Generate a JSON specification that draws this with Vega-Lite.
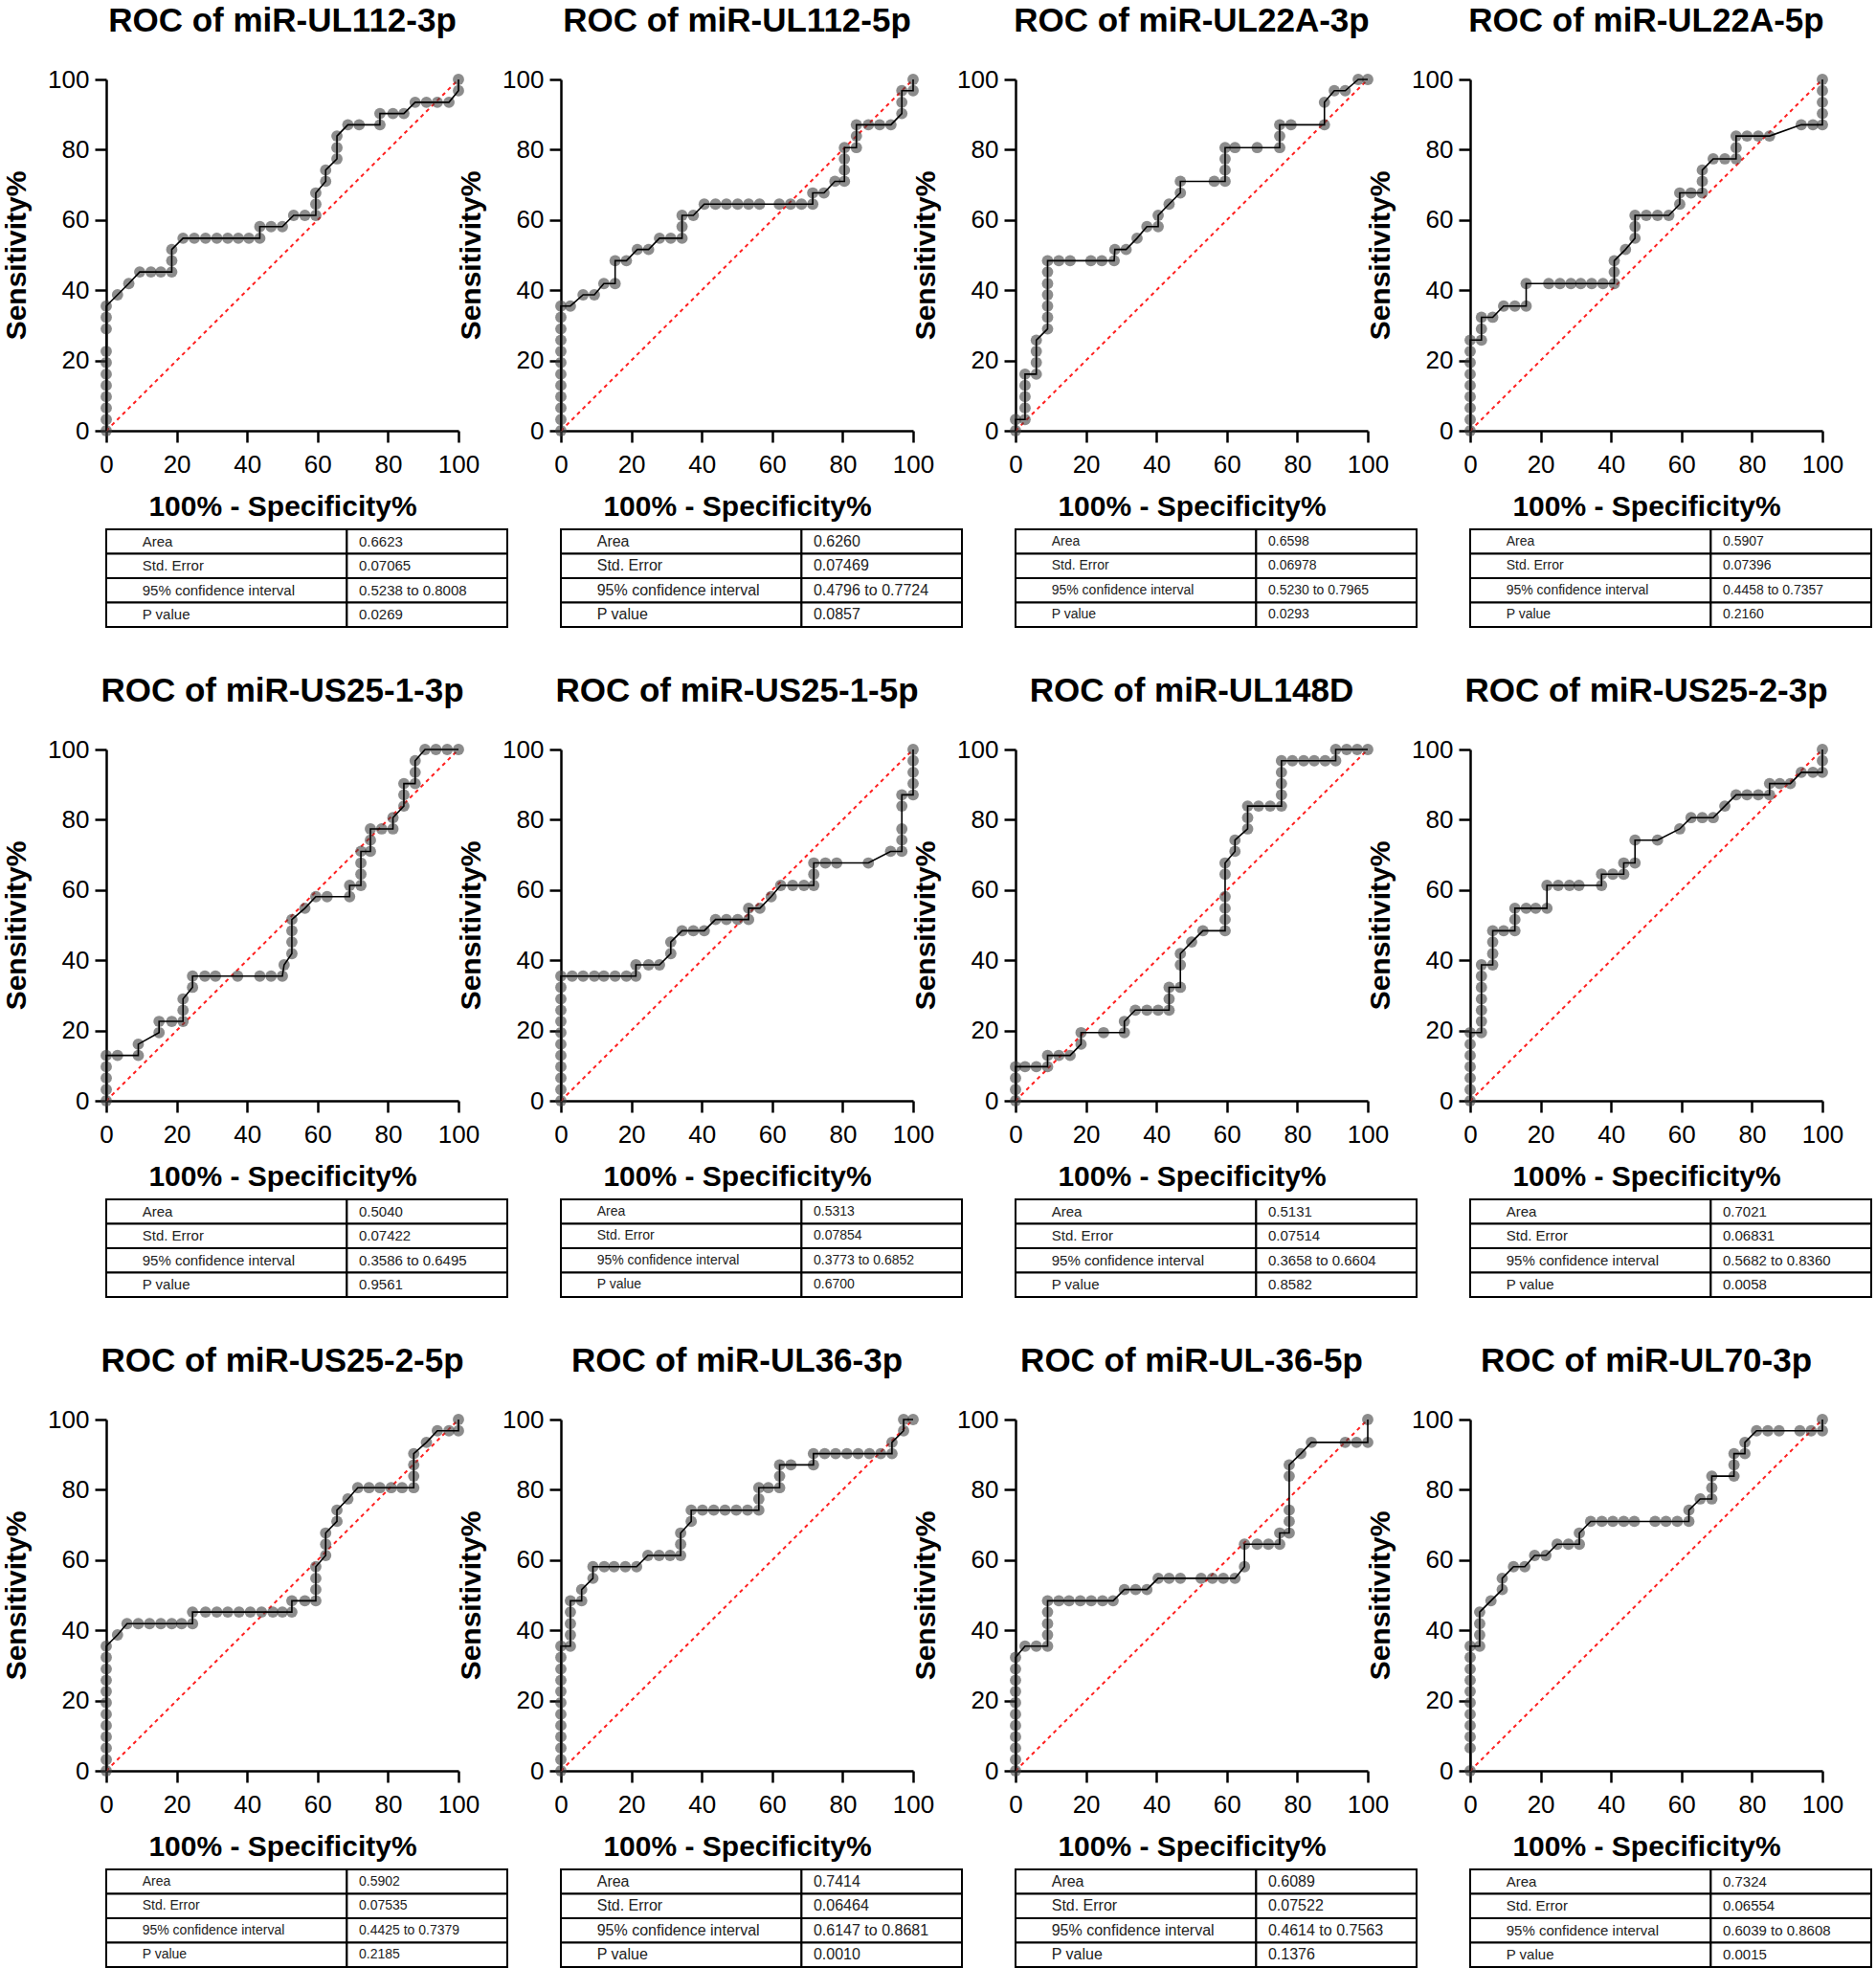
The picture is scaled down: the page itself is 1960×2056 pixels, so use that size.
{
"$schema":"https://vega.github.io/schema/vega-lite/v6.json",
"padding":{"left":2,"top":5,"right":0,"bottom":0},
"background":"white",
"config":{
 "view":{"stroke":null},
 "font":"Liberation Sans",
 "title":{"fontSize":35,"fontWeight":"bold","font":"Liberation Sans","color":"black","frame":"group","anchor":"middle","offset":30},
 "axis":{"grid":false,"domainColor":"black","domainWidth":2.5,"tickColor":"black","tickWidth":2.5,"tickSize":12,"labelFontSize":26,"labelColor":"black","labelPadding":6,"labelFont":"Liberation Sans","titleFont":"Liberation Sans","titleFontSize":30,"titleFontWeight":"bold","titleColor":"black","labelFlush":false,"labelOverlap":false,"labelBound":false},
 "axisX":{"titlePadding":16,"labelPadding":10},
 "axisY":{"titlePadding":17},
 "point":{"filled":true,"size":140,"color":"#404040","opacity":0.6},
 "line":{"color":"black","strokeWidth":1.6},
 "rule":{"color":"#ff2020","strokeDash":[4,4],"strokeWidth":2},
 "rect":{"fill":"white","stroke":"black","strokeWidth":2},
 "text":{"align":"left","color":"#222"}
},
"datasets":{
"stats":[
{"p":1,"stat":"Area","value":"0.6623"},{"p":1,"stat":"Std. Error","value":"0.07065"},{"p":1,"stat":"95% confidence interval","value":"0.5238 to 0.8008"},{"p":1,"stat":"P value","value":"0.0269"},
{"p":2,"stat":"Area","value":"0.6260"},{"p":2,"stat":"Std. Error","value":"0.07469"},{"p":2,"stat":"95% confidence interval","value":"0.4796 to 0.7724"},{"p":2,"stat":"P value","value":"0.0857"},
{"p":3,"stat":"Area","value":"0.6598"},{"p":3,"stat":"Std. Error","value":"0.06978"},{"p":3,"stat":"95% confidence interval","value":"0.5230 to 0.7965"},{"p":3,"stat":"P value","value":"0.0293"},
{"p":4,"stat":"Area","value":"0.5907"},{"p":4,"stat":"Std. Error","value":"0.07396"},{"p":4,"stat":"95% confidence interval","value":"0.4458 to 0.7357"},{"p":4,"stat":"P value","value":"0.2160"},
{"p":5,"stat":"Area","value":"0.5040"},{"p":5,"stat":"Std. Error","value":"0.07422"},{"p":5,"stat":"95% confidence interval","value":"0.3586 to 0.6495"},{"p":5,"stat":"P value","value":"0.9561"},
{"p":6,"stat":"Area","value":"0.5313"},{"p":6,"stat":"Std. Error","value":"0.07854"},{"p":6,"stat":"95% confidence interval","value":"0.3773 to 0.6852"},{"p":6,"stat":"P value","value":"0.6700"},
{"p":7,"stat":"Area","value":"0.5131"},{"p":7,"stat":"Std. Error","value":"0.07514"},{"p":7,"stat":"95% confidence interval","value":"0.3658 to 0.6604"},{"p":7,"stat":"P value","value":"0.8582"},
{"p":8,"stat":"Area","value":"0.7021"},{"p":8,"stat":"Std. Error","value":"0.06831"},{"p":8,"stat":"95% confidence interval","value":"0.5682 to 0.8360"},{"p":8,"stat":"P value","value":"0.0058"},
{"p":9,"stat":"Area","value":"0.5902"},{"p":9,"stat":"Std. Error","value":"0.07535"},{"p":9,"stat":"95% confidence interval","value":"0.4425 to 0.7379"},{"p":9,"stat":"P value","value":"0.2185"},
{"p":10,"stat":"Area","value":"0.7414"},{"p":10,"stat":"Std. Error","value":"0.06464"},{"p":10,"stat":"95% confidence interval","value":"0.6147 to 0.8681"},{"p":10,"stat":"P value","value":"0.0010"},
{"p":11,"stat":"Area","value":"0.6089"},{"p":11,"stat":"Std. Error","value":"0.07522"},{"p":11,"stat":"95% confidence interval","value":"0.4614 to 0.7563"},{"p":11,"stat":"P value","value":"0.1376"},
{"p":12,"stat":"Area","value":"0.7324"},{"p":12,"stat":"Std. Error","value":"0.06554"},{"p":12,"stat":"95% confidence interval","value":"0.6039 to 0.8608"},{"p":12,"stat":"P value","value":"0.0015"}
],
"roc":[
{"p":1,"fpr":0,"sens":0},{"p":1,"fpr":0,"sens":3.2},{"p":1,"fpr":0,"sens":6.5},{"p":1,"fpr":0,"sens":9.7},{"p":1,"fpr":0,"sens":12.9},{"p":1,"fpr":0,"sens":16.1},{"p":1,"fpr":0,"sens":19.4},{"p":1,"fpr":0,"sens":22.6},{"p":1,"fpr":0,"sens":29},{"p":1,"fpr":0,"sens":32.3},{"p":1,"fpr":0,"sens":35.5},{"p":1,"fpr":3.2,"sens":38.7},{"p":1,"fpr":6.4,"sens":41.9},{"p":1,"fpr":9.5,"sens":45.2},{"p":1,"fpr":12.7,"sens":45.2},{"p":1,"fpr":15.5,"sens":45.2},{"p":1,"fpr":18.6,"sens":45.2},{"p":1,"fpr":18.6,"sens":48.4},{"p":1,"fpr":18.6,"sens":51.6},{"p":1,"fpr":21.8,"sens":54.8},{"p":1,"fpr":25,"sens":54.8},{"p":1,"fpr":28.2,"sens":54.8},{"p":1,"fpr":31.4,"sens":54.8},{"p":1,"fpr":34.5,"sens":54.8},{"p":1,"fpr":37.5,"sens":54.8},{"p":1,"fpr":40.5,"sens":54.8},{"p":1,"fpr":43.6,"sens":54.8},{"p":1,"fpr":43.6,"sens":58.1},{"p":1,"fpr":46.8,"sens":58.1},{"p":1,"fpr":50,"sens":58.1},{"p":1,"fpr":53.2,"sens":61.3},{"p":1,"fpr":56.4,"sens":61.3},{"p":1,"fpr":59.5,"sens":61.3},{"p":1,"fpr":59.5,"sens":64.5},{"p":1,"fpr":59.5,"sens":67.7},{"p":1,"fpr":62.3,"sens":71},{"p":1,"fpr":62.3,"sens":74.2},{"p":1,"fpr":65.5,"sens":77.4},{"p":1,"fpr":65.5,"sens":80.6},{"p":1,"fpr":65.5,"sens":83.9},{"p":1,"fpr":68.6,"sens":87.1},{"p":1,"fpr":71.8,"sens":87.1},{"p":1,"fpr":77.7,"sens":87.1},{"p":1,"fpr":77.7,"sens":90.3},{"p":1,"fpr":81.4,"sens":90.3},{"p":1,"fpr":84.5,"sens":90.3},{"p":1,"fpr":87.7,"sens":93.5},{"p":1,"fpr":90.9,"sens":93.5},{"p":1,"fpr":94,"sens":93.5},{"p":1,"fpr":97.3,"sens":93.5},{"p":1,"fpr":100,"sens":96.8},{"p":1,"fpr":100,"sens":100},
{"p":2,"fpr":0,"sens":0},{"p":2,"fpr":0,"sens":3.2},{"p":2,"fpr":0,"sens":6.5},{"p":2,"fpr":0,"sens":9.7},{"p":2,"fpr":0,"sens":12.9},{"p":2,"fpr":0,"sens":16.1},{"p":2,"fpr":0,"sens":19.4},{"p":2,"fpr":0,"sens":22.6},{"p":2,"fpr":0,"sens":25.8},{"p":2,"fpr":0,"sens":29},{"p":2,"fpr":0,"sens":32.3},{"p":2,"fpr":0,"sens":35.5},{"p":2,"fpr":2.7,"sens":35.5},{"p":2,"fpr":6.3,"sens":38.7},{"p":2,"fpr":9.5,"sens":38.7},{"p":2,"fpr":12.2,"sens":41.9},{"p":2,"fpr":15.4,"sens":41.9},{"p":2,"fpr":15.4,"sens":48.4},{"p":2,"fpr":18.6,"sens":48.4},{"p":2,"fpr":21.7,"sens":51.6},{"p":2,"fpr":24.9,"sens":51.6},{"p":2,"fpr":28,"sens":54.8},{"p":2,"fpr":31.2,"sens":54.8},{"p":2,"fpr":34.4,"sens":54.8},{"p":2,"fpr":34.4,"sens":58.1},{"p":2,"fpr":34.4,"sens":61.3},{"p":2,"fpr":37.6,"sens":61.3},{"p":2,"fpr":40.7,"sens":64.5},{"p":2,"fpr":43.9,"sens":64.5},{"p":2,"fpr":47,"sens":64.5},{"p":2,"fpr":50.2,"sens":64.5},{"p":2,"fpr":53.3,"sens":64.5},{"p":2,"fpr":56.4,"sens":64.5},{"p":2,"fpr":62,"sens":64.5},{"p":2,"fpr":65.2,"sens":64.5},{"p":2,"fpr":68.3,"sens":64.5},{"p":2,"fpr":71.5,"sens":64.5},{"p":2,"fpr":71.5,"sens":67.7},{"p":2,"fpr":74.7,"sens":67.7},{"p":2,"fpr":77.8,"sens":71},{"p":2,"fpr":80.5,"sens":71},{"p":2,"fpr":80.5,"sens":74.2},{"p":2,"fpr":80.5,"sens":77.4},{"p":2,"fpr":80.5,"sens":80.6},{"p":2,"fpr":83.9,"sens":80.6},{"p":2,"fpr":83.9,"sens":83.9},{"p":2,"fpr":83.9,"sens":87.1},{"p":2,"fpr":87.3,"sens":87.1},{"p":2,"fpr":90.5,"sens":87.1},{"p":2,"fpr":93.7,"sens":87.1},{"p":2,"fpr":96.8,"sens":90.3},{"p":2,"fpr":96.8,"sens":93.5},{"p":2,"fpr":96.8,"sens":96.8},{"p":2,"fpr":100,"sens":96.8},{"p":2,"fpr":100,"sens":100},
{"p":3,"fpr":0,"sens":0},{"p":3,"fpr":0,"sens":3.2},{"p":3,"fpr":2.7,"sens":3.2},{"p":3,"fpr":2.7,"sens":6.5},{"p":3,"fpr":2.7,"sens":9.7},{"p":3,"fpr":2.7,"sens":12.9},{"p":3,"fpr":2.7,"sens":16.1},{"p":3,"fpr":5.9,"sens":16.1},{"p":3,"fpr":5.9,"sens":19.4},{"p":3,"fpr":5.9,"sens":22.6},{"p":3,"fpr":5.9,"sens":25.8},{"p":3,"fpr":9.1,"sens":29},{"p":3,"fpr":9.1,"sens":32.3},{"p":3,"fpr":9.1,"sens":35.5},{"p":3,"fpr":9.1,"sens":38.7},{"p":3,"fpr":9.1,"sens":41.9},{"p":3,"fpr":9.1,"sens":45.2},{"p":3,"fpr":9.1,"sens":48.4},{"p":3,"fpr":12.3,"sens":48.4},{"p":3,"fpr":15.5,"sens":48.4},{"p":3,"fpr":21.4,"sens":48.4},{"p":3,"fpr":24.5,"sens":48.4},{"p":3,"fpr":28,"sens":48.4},{"p":3,"fpr":28.2,"sens":51.6},{"p":3,"fpr":31.4,"sens":51.6},{"p":3,"fpr":34.5,"sens":54.8},{"p":3,"fpr":37.3,"sens":58.1},{"p":3,"fpr":40.5,"sens":58.1},{"p":3,"fpr":40.5,"sens":61.3},{"p":3,"fpr":43.6,"sens":64.5},{"p":3,"fpr":46.8,"sens":67.7},{"p":3,"fpr":46.8,"sens":71},{"p":3,"fpr":56.4,"sens":71},{"p":3,"fpr":59.5,"sens":71},{"p":3,"fpr":59.5,"sens":74.2},{"p":3,"fpr":59.5,"sens":77.4},{"p":3,"fpr":59.5,"sens":80.6},{"p":3,"fpr":62.3,"sens":80.6},{"p":3,"fpr":68.6,"sens":80.6},{"p":3,"fpr":75,"sens":80.6},{"p":3,"fpr":75,"sens":83.9},{"p":3,"fpr":75,"sens":87.1},{"p":3,"fpr":78.2,"sens":87.1},{"p":3,"fpr":87.7,"sens":87.1},{"p":3,"fpr":87.7,"sens":93.5},{"p":3,"fpr":90.5,"sens":96.8},{"p":3,"fpr":93.6,"sens":96.8},{"p":3,"fpr":97.3,"sens":100},{"p":3,"fpr":100,"sens":100},
{"p":4,"fpr":0,"sens":0},{"p":4,"fpr":0,"sens":3.2},{"p":4,"fpr":0,"sens":6.5},{"p":4,"fpr":0,"sens":9.7},{"p":4,"fpr":0,"sens":12.9},{"p":4,"fpr":0,"sens":16.1},{"p":4,"fpr":0,"sens":19.4},{"p":4,"fpr":0,"sens":22.6},{"p":4,"fpr":0,"sens":25.8},{"p":4,"fpr":3.2,"sens":25.8},{"p":4,"fpr":3.2,"sens":29},{"p":4,"fpr":3.2,"sens":32.3},{"p":4,"fpr":6.4,"sens":32.3},{"p":4,"fpr":9.5,"sens":35.5},{"p":4,"fpr":12.7,"sens":35.5},{"p":4,"fpr":15.9,"sens":35.5},{"p":4,"fpr":15.9,"sens":41.9},{"p":4,"fpr":22.3,"sens":41.9},{"p":4,"fpr":25.5,"sens":41.9},{"p":4,"fpr":28.6,"sens":41.9},{"p":4,"fpr":31.4,"sens":41.9},{"p":4,"fpr":34.5,"sens":41.9},{"p":4,"fpr":37.7,"sens":41.9},{"p":4,"fpr":40.9,"sens":41.9},{"p":4,"fpr":40.9,"sens":45.2},{"p":4,"fpr":40.9,"sens":48.4},{"p":4,"fpr":44.1,"sens":51.6},{"p":4,"fpr":46.8,"sens":54.8},{"p":4,"fpr":46.8,"sens":58.1},{"p":4,"fpr":46.8,"sens":61.3},{"p":4,"fpr":50,"sens":61.3},{"p":4,"fpr":53.2,"sens":61.3},{"p":4,"fpr":56.4,"sens":61.3},{"p":4,"fpr":59.5,"sens":64.5},{"p":4,"fpr":59.5,"sens":67.7},{"p":4,"fpr":62.7,"sens":67.7},{"p":4,"fpr":65.9,"sens":67.7},{"p":4,"fpr":65.9,"sens":71},{"p":4,"fpr":65.9,"sens":74.2},{"p":4,"fpr":69,"sens":77.4},{"p":4,"fpr":72.3,"sens":77.4},{"p":4,"fpr":75.5,"sens":77.4},{"p":4,"fpr":75.5,"sens":80.6},{"p":4,"fpr":75.5,"sens":83.9},{"p":4,"fpr":78.6,"sens":83.9},{"p":4,"fpr":81.8,"sens":83.9},{"p":4,"fpr":85,"sens":83.9},{"p":4,"fpr":94,"sens":87.1},{"p":4,"fpr":97.3,"sens":87.1},{"p":4,"fpr":100,"sens":87.1},{"p":4,"fpr":100,"sens":90.3},{"p":4,"fpr":100,"sens":93.5},{"p":4,"fpr":100,"sens":96.8},{"p":4,"fpr":100,"sens":100},
{"p":5,"fpr":0,"sens":0},{"p":5,"fpr":0,"sens":3.2},{"p":5,"fpr":0,"sens":6.5},{"p":5,"fpr":0,"sens":9.7},{"p":5,"fpr":0,"sens":12.9},{"p":5,"fpr":3.2,"sens":12.9},{"p":5,"fpr":9.1,"sens":12.9},{"p":5,"fpr":9.1,"sens":16.1},{"p":5,"fpr":15,"sens":19.4},{"p":5,"fpr":15,"sens":22.6},{"p":5,"fpr":18.6,"sens":22.6},{"p":5,"fpr":21.8,"sens":22.6},{"p":5,"fpr":21.8,"sens":25.8},{"p":5,"fpr":21.8,"sens":29},{"p":5,"fpr":24.5,"sens":32.3},{"p":5,"fpr":24.5,"sens":35.5},{"p":5,"fpr":28,"sens":35.5},{"p":5,"fpr":31,"sens":35.5},{"p":5,"fpr":37.3,"sens":35.5},{"p":5,"fpr":43.6,"sens":35.5},{"p":5,"fpr":46.8,"sens":35.5},{"p":5,"fpr":50,"sens":35.5},{"p":5,"fpr":50.5,"sens":38.7},{"p":5,"fpr":52.7,"sens":41.9},{"p":5,"fpr":52.7,"sens":45.2},{"p":5,"fpr":52.7,"sens":48.4},{"p":5,"fpr":52.7,"sens":51.6},{"p":5,"fpr":56.4,"sens":54.8},{"p":5,"fpr":59.5,"sens":58.1},{"p":5,"fpr":62.7,"sens":58.1},{"p":5,"fpr":69.1,"sens":58.1},{"p":5,"fpr":69.1,"sens":61.3},{"p":5,"fpr":72.3,"sens":61.3},{"p":5,"fpr":72.3,"sens":64.5},{"p":5,"fpr":72.3,"sens":67.7},{"p":5,"fpr":72.3,"sens":71},{"p":5,"fpr":75,"sens":71},{"p":5,"fpr":75,"sens":74.2},{"p":5,"fpr":75,"sens":77.4},{"p":5,"fpr":78.2,"sens":77.4},{"p":5,"fpr":81.4,"sens":77.4},{"p":5,"fpr":81.4,"sens":80.6},{"p":5,"fpr":84.5,"sens":83.9},{"p":5,"fpr":84.5,"sens":87.1},{"p":5,"fpr":84.5,"sens":90.3},{"p":5,"fpr":87.7,"sens":90.3},{"p":5,"fpr":87.7,"sens":93.5},{"p":5,"fpr":87.7,"sens":96.8},{"p":5,"fpr":90.5,"sens":100},{"p":5,"fpr":93.6,"sens":100},{"p":5,"fpr":96.8,"sens":100},{"p":5,"fpr":100,"sens":100},
{"p":6,"fpr":0,"sens":0},{"p":6,"fpr":0,"sens":3.2},{"p":6,"fpr":0,"sens":6.5},{"p":6,"fpr":0,"sens":9.7},{"p":6,"fpr":0,"sens":12.9},{"p":6,"fpr":0,"sens":16.1},{"p":6,"fpr":0,"sens":19.4},{"p":6,"fpr":0,"sens":22.6},{"p":6,"fpr":0,"sens":25.8},{"p":6,"fpr":0,"sens":29},{"p":6,"fpr":0,"sens":32.3},{"p":6,"fpr":0,"sens":35.5},{"p":6,"fpr":3.2,"sens":35.5},{"p":6,"fpr":6.3,"sens":35.5},{"p":6,"fpr":9.5,"sens":35.5},{"p":6,"fpr":12.2,"sens":35.5},{"p":6,"fpr":15.4,"sens":35.5},{"p":6,"fpr":18.6,"sens":35.5},{"p":6,"fpr":21.3,"sens":35.5},{"p":6,"fpr":21.3,"sens":38.7},{"p":6,"fpr":24.9,"sens":38.7},{"p":6,"fpr":28,"sens":38.7},{"p":6,"fpr":31.2,"sens":41.9},{"p":6,"fpr":31.2,"sens":45.2},{"p":6,"fpr":34.4,"sens":48.4},{"p":6,"fpr":37.6,"sens":48.4},{"p":6,"fpr":40.7,"sens":48.4},{"p":6,"fpr":43.9,"sens":51.6},{"p":6,"fpr":47,"sens":51.6},{"p":6,"fpr":50.2,"sens":51.6},{"p":6,"fpr":53.3,"sens":51.6},{"p":6,"fpr":53.3,"sens":54.8},{"p":6,"fpr":56.5,"sens":54.8},{"p":6,"fpr":59.7,"sens":58.1},{"p":6,"fpr":62.4,"sens":61.3},{"p":6,"fpr":65.8,"sens":61.3},{"p":6,"fpr":69,"sens":61.3},{"p":6,"fpr":71.8,"sens":61.3},{"p":6,"fpr":71.8,"sens":64.5},{"p":6,"fpr":71.8,"sens":67.7},{"p":6,"fpr":75.1,"sens":67.7},{"p":6,"fpr":78.3,"sens":67.7},{"p":6,"fpr":87.3,"sens":67.7},{"p":6,"fpr":93.6,"sens":71},{"p":6,"fpr":96.8,"sens":71},{"p":6,"fpr":96.8,"sens":74.2},{"p":6,"fpr":96.8,"sens":77.4},{"p":6,"fpr":96.8,"sens":83.9},{"p":6,"fpr":96.8,"sens":87.1},{"p":6,"fpr":100,"sens":87.1},{"p":6,"fpr":100,"sens":90.3},{"p":6,"fpr":100,"sens":93.5},{"p":6,"fpr":100,"sens":96.8},{"p":6,"fpr":100,"sens":100},
{"p":7,"fpr":0,"sens":0},{"p":7,"fpr":0,"sens":3.2},{"p":7,"fpr":0,"sens":6.5},{"p":7,"fpr":0,"sens":9.7},{"p":7,"fpr":2.7,"sens":9.7},{"p":7,"fpr":5.9,"sens":9.7},{"p":7,"fpr":9.1,"sens":9.7},{"p":7,"fpr":9.1,"sens":12.9},{"p":7,"fpr":12.3,"sens":12.9},{"p":7,"fpr":15.5,"sens":12.9},{"p":7,"fpr":18.6,"sens":16.1},{"p":7,"fpr":18.6,"sens":19.4},{"p":7,"fpr":25,"sens":19.4},{"p":7,"fpr":30.9,"sens":19.4},{"p":7,"fpr":30.9,"sens":22.6},{"p":7,"fpr":34,"sens":25.8},{"p":7,"fpr":37.3,"sens":25.8},{"p":7,"fpr":40.5,"sens":25.8},{"p":7,"fpr":43.6,"sens":25.8},{"p":7,"fpr":43.6,"sens":29},{"p":7,"fpr":43.6,"sens":32.3},{"p":7,"fpr":46.8,"sens":32.3},{"p":7,"fpr":46.8,"sens":38.7},{"p":7,"fpr":46.8,"sens":41.9},{"p":7,"fpr":50,"sens":45.2},{"p":7,"fpr":53.2,"sens":48.4},{"p":7,"fpr":59.5,"sens":48.4},{"p":7,"fpr":59.5,"sens":51.6},{"p":7,"fpr":59.5,"sens":54.8},{"p":7,"fpr":59.5,"sens":58.1},{"p":7,"fpr":59.5,"sens":64.5},{"p":7,"fpr":59.5,"sens":67.7},{"p":7,"fpr":62.3,"sens":71},{"p":7,"fpr":62.3,"sens":74.2},{"p":7,"fpr":65.9,"sens":77.4},{"p":7,"fpr":65.9,"sens":80.6},{"p":7,"fpr":65.9,"sens":83.9},{"p":7,"fpr":69,"sens":83.9},{"p":7,"fpr":72.3,"sens":83.9},{"p":7,"fpr":75.5,"sens":83.9},{"p":7,"fpr":75.5,"sens":87.1},{"p":7,"fpr":75.5,"sens":90.3},{"p":7,"fpr":75.5,"sens":93.5},{"p":7,"fpr":75.5,"sens":96.8},{"p":7,"fpr":78.6,"sens":96.8},{"p":7,"fpr":81.8,"sens":96.8},{"p":7,"fpr":84.8,"sens":96.8},{"p":7,"fpr":87.9,"sens":96.8},{"p":7,"fpr":90.9,"sens":96.8},{"p":7,"fpr":90.9,"sens":100},{"p":7,"fpr":94,"sens":100},{"p":7,"fpr":97,"sens":100},{"p":7,"fpr":100,"sens":100},
{"p":8,"fpr":0,"sens":0},{"p":8,"fpr":0,"sens":3.2},{"p":8,"fpr":0,"sens":6.5},{"p":8,"fpr":0,"sens":9.7},{"p":8,"fpr":0,"sens":12.9},{"p":8,"fpr":0,"sens":16.1},{"p":8,"fpr":0,"sens":19.4},{"p":8,"fpr":3.2,"sens":19.4},{"p":8,"fpr":3.2,"sens":22.6},{"p":8,"fpr":3.2,"sens":25.8},{"p":8,"fpr":3.2,"sens":29},{"p":8,"fpr":3.2,"sens":32.3},{"p":8,"fpr":3.2,"sens":35.5},{"p":8,"fpr":3.2,"sens":38.7},{"p":8,"fpr":6.4,"sens":38.7},{"p":8,"fpr":6.4,"sens":41.9},{"p":8,"fpr":6.4,"sens":45.2},{"p":8,"fpr":6.4,"sens":48.4},{"p":8,"fpr":9.5,"sens":48.4},{"p":8,"fpr":12.7,"sens":48.4},{"p":8,"fpr":12.7,"sens":51.6},{"p":8,"fpr":12.7,"sens":54.8},{"p":8,"fpr":15.9,"sens":54.8},{"p":8,"fpr":18.6,"sens":54.8},{"p":8,"fpr":21.8,"sens":54.8},{"p":8,"fpr":21.8,"sens":61.3},{"p":8,"fpr":25,"sens":61.3},{"p":8,"fpr":28.2,"sens":61.3},{"p":8,"fpr":30.9,"sens":61.3},{"p":8,"fpr":37.3,"sens":61.3},{"p":8,"fpr":37.3,"sens":64.5},{"p":8,"fpr":40.5,"sens":64.5},{"p":8,"fpr":43.6,"sens":64.5},{"p":8,"fpr":43.6,"sens":67.7},{"p":8,"fpr":46.8,"sens":67.7},{"p":8,"fpr":46.8,"sens":74.2},{"p":8,"fpr":53.2,"sens":74.2},{"p":8,"fpr":59.5,"sens":77.4},{"p":8,"fpr":62.7,"sens":80.6},{"p":8,"fpr":65.9,"sens":80.6},{"p":8,"fpr":69,"sens":80.6},{"p":8,"fpr":72.3,"sens":83.9},{"p":8,"fpr":75.5,"sens":87.1},{"p":8,"fpr":78.6,"sens":87.1},{"p":8,"fpr":81.8,"sens":87.1},{"p":8,"fpr":85,"sens":87.1},{"p":8,"fpr":85,"sens":90.3},{"p":8,"fpr":87.9,"sens":90.3},{"p":8,"fpr":90.9,"sens":90.3},{"p":8,"fpr":94,"sens":93.5},{"p":8,"fpr":97.3,"sens":93.5},{"p":8,"fpr":100,"sens":93.5},{"p":8,"fpr":100,"sens":96.8},{"p":8,"fpr":100,"sens":100},
{"p":9,"fpr":0,"sens":0},{"p":9,"fpr":0,"sens":3.2},{"p":9,"fpr":0,"sens":6.5},{"p":9,"fpr":0,"sens":9.7},{"p":9,"fpr":0,"sens":12.9},{"p":9,"fpr":0,"sens":16.1},{"p":9,"fpr":0,"sens":19.4},{"p":9,"fpr":0,"sens":22.6},{"p":9,"fpr":0,"sens":25.8},{"p":9,"fpr":0,"sens":29},{"p":9,"fpr":0,"sens":32.3},{"p":9,"fpr":0,"sens":35.5},{"p":9,"fpr":3.2,"sens":38.7},{"p":9,"fpr":5.9,"sens":41.9},{"p":9,"fpr":9.1,"sens":41.9},{"p":9,"fpr":12.3,"sens":41.9},{"p":9,"fpr":15.5,"sens":41.9},{"p":9,"fpr":18.6,"sens":41.9},{"p":9,"fpr":21.4,"sens":41.9},{"p":9,"fpr":24.5,"sens":41.9},{"p":9,"fpr":24.5,"sens":45.2},{"p":9,"fpr":28.2,"sens":45.2},{"p":9,"fpr":31.4,"sens":45.2},{"p":9,"fpr":34.5,"sens":45.2},{"p":9,"fpr":37.7,"sens":45.2},{"p":9,"fpr":40.9,"sens":45.2},{"p":9,"fpr":44.1,"sens":45.2},{"p":9,"fpr":47.3,"sens":45.2},{"p":9,"fpr":50,"sens":45.2},{"p":9,"fpr":52.7,"sens":45.2},{"p":9,"fpr":52.7,"sens":48.4},{"p":9,"fpr":56.4,"sens":48.4},{"p":9,"fpr":59.5,"sens":48.4},{"p":9,"fpr":59.5,"sens":51.6},{"p":9,"fpr":59.5,"sens":54.8},{"p":9,"fpr":59.5,"sens":58.1},{"p":9,"fpr":62.3,"sens":61.3},{"p":9,"fpr":62.3,"sens":64.5},{"p":9,"fpr":62.3,"sens":67.7},{"p":9,"fpr":65.5,"sens":71},{"p":9,"fpr":65.5,"sens":74.2},{"p":9,"fpr":68.6,"sens":77.4},{"p":9,"fpr":71.4,"sens":80.6},{"p":9,"fpr":74.6,"sens":80.6},{"p":9,"fpr":77.7,"sens":80.6},{"p":9,"fpr":80.9,"sens":80.6},{"p":9,"fpr":84,"sens":80.6},{"p":9,"fpr":87.3,"sens":80.6},{"p":9,"fpr":87.3,"sens":83.9},{"p":9,"fpr":87.3,"sens":87.1},{"p":9,"fpr":87.3,"sens":90.3},{"p":9,"fpr":90.9,"sens":93.5},{"p":9,"fpr":94,"sens":96.8},{"p":9,"fpr":97.3,"sens":96.8},{"p":9,"fpr":100,"sens":96.8},{"p":9,"fpr":100,"sens":100},
{"p":10,"fpr":0,"sens":0},{"p":10,"fpr":0,"sens":3.2},{"p":10,"fpr":0,"sens":6.5},{"p":10,"fpr":0,"sens":9.7},{"p":10,"fpr":0,"sens":12.9},{"p":10,"fpr":0,"sens":16.1},{"p":10,"fpr":0,"sens":19.4},{"p":10,"fpr":0,"sens":22.6},{"p":10,"fpr":0,"sens":25.8},{"p":10,"fpr":0,"sens":29},{"p":10,"fpr":0,"sens":32.3},{"p":10,"fpr":0,"sens":35.5},{"p":10,"fpr":2.7,"sens":35.5},{"p":10,"fpr":2.7,"sens":38.7},{"p":10,"fpr":2.7,"sens":41.9},{"p":10,"fpr":2.7,"sens":45.2},{"p":10,"fpr":2.7,"sens":48.4},{"p":10,"fpr":5.9,"sens":48.4},{"p":10,"fpr":5.9,"sens":51.6},{"p":10,"fpr":9.1,"sens":54.8},{"p":10,"fpr":9.1,"sens":58.1},{"p":10,"fpr":12.3,"sens":58.1},{"p":10,"fpr":15.1,"sens":58.1},{"p":10,"fpr":18.3,"sens":58.1},{"p":10,"fpr":21.5,"sens":58.1},{"p":10,"fpr":24.7,"sens":61.3},{"p":10,"fpr":27.9,"sens":61.3},{"p":10,"fpr":31,"sens":61.3},{"p":10,"fpr":34,"sens":61.3},{"p":10,"fpr":34,"sens":64.5},{"p":10,"fpr":34,"sens":67.7},{"p":10,"fpr":37,"sens":71},{"p":10,"fpr":37,"sens":74.2},{"p":10,"fpr":40.2,"sens":74.2},{"p":10,"fpr":43.4,"sens":74.2},{"p":10,"fpr":46.6,"sens":74.2},{"p":10,"fpr":49.8,"sens":74.2},{"p":10,"fpr":53,"sens":74.2},{"p":10,"fpr":56.2,"sens":74.2},{"p":10,"fpr":56.2,"sens":77.4},{"p":10,"fpr":56.2,"sens":80.6},{"p":10,"fpr":58.9,"sens":80.6},{"p":10,"fpr":62.1,"sens":80.6},{"p":10,"fpr":62.1,"sens":83.9},{"p":10,"fpr":62.1,"sens":87.1},{"p":10,"fpr":65.3,"sens":87.1},{"p":10,"fpr":71.7,"sens":87.1},{"p":10,"fpr":71.7,"sens":90.3},{"p":10,"fpr":74.9,"sens":90.3},{"p":10,"fpr":78,"sens":90.3},{"p":10,"fpr":81.2,"sens":90.3},{"p":10,"fpr":84.4,"sens":90.3},{"p":10,"fpr":87.6,"sens":90.3},{"p":10,"fpr":90.8,"sens":90.3},{"p":10,"fpr":94,"sens":90.3},{"p":10,"fpr":94,"sens":93.5},{"p":10,"fpr":97.3,"sens":96.8},{"p":10,"fpr":97.3,"sens":100},{"p":10,"fpr":100,"sens":100},
{"p":11,"fpr":0,"sens":0},{"p":11,"fpr":0,"sens":3.2},{"p":11,"fpr":0,"sens":6.5},{"p":11,"fpr":0,"sens":9.7},{"p":11,"fpr":0,"sens":12.9},{"p":11,"fpr":0,"sens":16.1},{"p":11,"fpr":0,"sens":19.4},{"p":11,"fpr":0,"sens":22.6},{"p":11,"fpr":0,"sens":25.8},{"p":11,"fpr":0,"sens":29},{"p":11,"fpr":0,"sens":32.3},{"p":11,"fpr":2.7,"sens":35.5},{"p":11,"fpr":5.9,"sens":35.5},{"p":11,"fpr":9.1,"sens":35.5},{"p":11,"fpr":9.1,"sens":38.7},{"p":11,"fpr":9.1,"sens":41.9},{"p":11,"fpr":9.1,"sens":45.2},{"p":11,"fpr":9.1,"sens":48.4},{"p":11,"fpr":12.3,"sens":48.4},{"p":11,"fpr":15.2,"sens":48.4},{"p":11,"fpr":18.4,"sens":48.4},{"p":11,"fpr":21.5,"sens":48.4},{"p":11,"fpr":24.7,"sens":48.4},{"p":11,"fpr":27.7,"sens":48.4},{"p":11,"fpr":30.9,"sens":51.6},{"p":11,"fpr":34.1,"sens":51.6},{"p":11,"fpr":37.3,"sens":51.6},{"p":11,"fpr":40.5,"sens":54.8},{"p":11,"fpr":43.6,"sens":54.8},{"p":11,"fpr":46.8,"sens":54.8},{"p":11,"fpr":52.7,"sens":54.8},{"p":11,"fpr":55.9,"sens":54.8},{"p":11,"fpr":59,"sens":54.8},{"p":11,"fpr":62.3,"sens":54.8},{"p":11,"fpr":65,"sens":58.1},{"p":11,"fpr":65,"sens":64.5},{"p":11,"fpr":68.6,"sens":64.5},{"p":11,"fpr":71.8,"sens":64.5},{"p":11,"fpr":75,"sens":64.5},{"p":11,"fpr":75,"sens":67.7},{"p":11,"fpr":77.7,"sens":67.7},{"p":11,"fpr":77.7,"sens":71},{"p":11,"fpr":77.7,"sens":74.2},{"p":11,"fpr":77.7,"sens":83.9},{"p":11,"fpr":77.7,"sens":87.1},{"p":11,"fpr":81,"sens":90.3},{"p":11,"fpr":84,"sens":93.5},{"p":11,"fpr":93.6,"sens":93.5},{"p":11,"fpr":96.8,"sens":93.5},{"p":11,"fpr":100,"sens":93.5},{"p":11,"fpr":100,"sens":100},
{"p":12,"fpr":0,"sens":0},{"p":12,"fpr":0,"sens":6.5},{"p":12,"fpr":0,"sens":9.7},{"p":12,"fpr":0,"sens":12.9},{"p":12,"fpr":0,"sens":16.1},{"p":12,"fpr":0,"sens":19.4},{"p":12,"fpr":0,"sens":22.6},{"p":12,"fpr":0,"sens":25.8},{"p":12,"fpr":0,"sens":29},{"p":12,"fpr":0,"sens":32.3},{"p":12,"fpr":0,"sens":35.5},{"p":12,"fpr":2.7,"sens":35.5},{"p":12,"fpr":2.7,"sens":38.7},{"p":12,"fpr":2.7,"sens":41.9},{"p":12,"fpr":2.7,"sens":45.2},{"p":12,"fpr":5.9,"sens":48.4},{"p":12,"fpr":9.1,"sens":51.6},{"p":12,"fpr":9.1,"sens":54.8},{"p":12,"fpr":12.3,"sens":58.1},{"p":12,"fpr":15.5,"sens":58.1},{"p":12,"fpr":18.3,"sens":61.3},{"p":12,"fpr":21.5,"sens":61.3},{"p":12,"fpr":24.7,"sens":64.5},{"p":12,"fpr":27.9,"sens":64.5},{"p":12,"fpr":31,"sens":64.5},{"p":12,"fpr":31,"sens":67.7},{"p":12,"fpr":34.2,"sens":71},{"p":12,"fpr":37.4,"sens":71},{"p":12,"fpr":40.5,"sens":71},{"p":12,"fpr":43.6,"sens":71},{"p":12,"fpr":46.6,"sens":71},{"p":12,"fpr":52.5,"sens":71},{"p":12,"fpr":55.6,"sens":71},{"p":12,"fpr":58.8,"sens":71},{"p":12,"fpr":62.1,"sens":71},{"p":12,"fpr":62.1,"sens":74.2},{"p":12,"fpr":65.3,"sens":77.4},{"p":12,"fpr":68.6,"sens":77.4},{"p":12,"fpr":68.6,"sens":80.6},{"p":12,"fpr":68.6,"sens":83.9},{"p":12,"fpr":74.9,"sens":83.9},{"p":12,"fpr":74.9,"sens":87.1},{"p":12,"fpr":74.9,"sens":90.3},{"p":12,"fpr":78,"sens":90.3},{"p":12,"fpr":78,"sens":93.5},{"p":12,"fpr":81.3,"sens":96.8},{"p":12,"fpr":84.5,"sens":96.8},{"p":12,"fpr":87.7,"sens":96.8},{"p":12,"fpr":93.6,"sens":96.8},{"p":12,"fpr":96.8,"sens":96.8},{"p":12,"fpr":100,"sens":96.8},{"p":12,"fpr":100,"sens":100}
]
},
"columns":4,
"bounds":"flush",
"align":{"row":"each","column":"all"},
"spacing":{"row":103,"column":56},
"concat":[
{"width":368,"height":367,"title":"ROC of miR-UL112-3p","data":{"name":"roc"},"transform":[{"filter":"datum.p == 1"}],
 "encoding":{"x":{"field":"fpr","type":"quantitative","scale":{"domain":[0,100],"nice":false},"axis":{"title":"100% - Specificity%","values":[0,20,40,60,80,100]}},"y":{"field":"sens","type":"quantitative","scale":{"domain":[0,100],"nice":false},"axis":{"title":"Sensitivity%","values":[0,20,40,60,80,100]}}},
 "layer":[{"transform":[{"filter":"datum.fpr == 0 && datum.sens == 0"}],"mark":"rule","encoding":{"x":{"datum":0},"y":{"datum":0},"x2":{"datum":100},"y2":{"datum":100}}},{"mark":"point"},{"mark":"line","encoding":{"order":[{"field":"fpr"},{"field":"sens"}]}}]},
{"width":368,"height":367,"title":"ROC of miR-UL112-5p","data":{"name":"roc"},"transform":[{"filter":"datum.p == 2"}],
 "encoding":{"x":{"field":"fpr","type":"quantitative","scale":{"domain":[0,100],"nice":false},"axis":{"title":"100% - Specificity%","values":[0,20,40,60,80,100]}},"y":{"field":"sens","type":"quantitative","scale":{"domain":[0,100],"nice":false},"axis":{"title":"Sensitivity%","values":[0,20,40,60,80,100]}}},
 "layer":[{"transform":[{"filter":"datum.fpr == 0 && datum.sens == 0"}],"mark":"rule","encoding":{"x":{"datum":0},"y":{"datum":0},"x2":{"datum":100},"y2":{"datum":100}}},{"mark":"point"},{"mark":"line","encoding":{"order":[{"field":"fpr"},{"field":"sens"}]}}]},
{"width":368,"height":367,"title":"ROC of miR-UL22A-3p","data":{"name":"roc"},"transform":[{"filter":"datum.p == 3"}],
 "encoding":{"x":{"field":"fpr","type":"quantitative","scale":{"domain":[0,100],"nice":false},"axis":{"title":"100% - Specificity%","values":[0,20,40,60,80,100]}},"y":{"field":"sens","type":"quantitative","scale":{"domain":[0,100],"nice":false},"axis":{"title":"Sensitivity%","values":[0,20,40,60,80,100]}}},
 "layer":[{"transform":[{"filter":"datum.fpr == 0 && datum.sens == 0"}],"mark":"rule","encoding":{"x":{"datum":0},"y":{"datum":0},"x2":{"datum":100},"y2":{"datum":100}}},{"mark":"point"},{"mark":"line","encoding":{"order":[{"field":"fpr"},{"field":"sens"}]}}]},
{"width":368,"height":367,"title":"ROC of miR-UL22A-5p","data":{"name":"roc"},"transform":[{"filter":"datum.p == 4"}],
 "encoding":{"x":{"field":"fpr","type":"quantitative","scale":{"domain":[0,100],"nice":false},"axis":{"title":"100% - Specificity%","values":[0,20,40,60,80,100]}},"y":{"field":"sens","type":"quantitative","scale":{"domain":[0,100],"nice":false},"axis":{"title":"Sensitivity%","values":[0,20,40,60,80,100]}}},
 "layer":[{"transform":[{"filter":"datum.fpr == 0 && datum.sens == 0"}],"mark":"rule","encoding":{"x":{"datum":0},"y":{"datum":0},"x2":{"datum":100},"y2":{"datum":100}}},{"mark":"point"},{"mark":"line","encoding":{"order":[{"field":"fpr"},{"field":"sens"}]}}]},
{"width":419,"height":127,"data":{"name":"stats"},"transform":[{"filter":"datum.p == 1"}],
 "encoding":{"y":{"field":"stat","type":"nominal","sort":["Area","Std. Error","95% confidence interval","P value"],"scale":{"range":[0,102],"paddingInner":0,"paddingOuter":0},"axis":null}},
 "layer":[{"mark":"rect","encoding":{"x":{"datum":0,"type":"quantitative","scale":{"domain":[0,100],"nice":false},"axis":null},"x2":{"datum":60}}},{"mark":"rect","encoding":{"x":{"datum":60,"type":"quantitative"},"x2":{"datum":100}}},{"mark":{"type":"text","fontSize":15},"encoding":{"x":{"datum":9,"type":"quantitative"},"text":{"field":"stat"}}},{"mark":{"type":"text","fontSize":15},"encoding":{"x":{"datum":63,"type":"quantitative"},"text":{"field":"value"}}}]},
{"width":419,"height":127,"data":{"name":"stats"},"transform":[{"filter":"datum.p == 2"}],
 "encoding":{"y":{"field":"stat","type":"nominal","sort":["Area","Std. Error","95% confidence interval","P value"],"scale":{"range":[0,102],"paddingInner":0,"paddingOuter":0},"axis":null}},
 "layer":[{"mark":"rect","encoding":{"x":{"datum":0,"type":"quantitative","scale":{"domain":[0,100],"nice":false},"axis":null},"x2":{"datum":60}}},{"mark":"rect","encoding":{"x":{"datum":60,"type":"quantitative"},"x2":{"datum":100}}},{"mark":{"type":"text","fontSize":16},"encoding":{"x":{"datum":9,"type":"quantitative"},"text":{"field":"stat"}}},{"mark":{"type":"text","fontSize":16},"encoding":{"x":{"datum":63,"type":"quantitative"},"text":{"field":"value"}}}]},
{"width":419,"height":127,"data":{"name":"stats"},"transform":[{"filter":"datum.p == 3"}],
 "encoding":{"y":{"field":"stat","type":"nominal","sort":["Area","Std. Error","95% confidence interval","P value"],"scale":{"range":[0,102],"paddingInner":0,"paddingOuter":0},"axis":null}},
 "layer":[{"mark":"rect","encoding":{"x":{"datum":0,"type":"quantitative","scale":{"domain":[0,100],"nice":false},"axis":null},"x2":{"datum":60}}},{"mark":"rect","encoding":{"x":{"datum":60,"type":"quantitative"},"x2":{"datum":100}}},{"mark":{"type":"text","fontSize":14},"encoding":{"x":{"datum":9,"type":"quantitative"},"text":{"field":"stat"}}},{"mark":{"type":"text","fontSize":14},"encoding":{"x":{"datum":63,"type":"quantitative"},"text":{"field":"value"}}}]},
{"width":419,"height":127,"data":{"name":"stats"},"transform":[{"filter":"datum.p == 4"}],
 "encoding":{"y":{"field":"stat","type":"nominal","sort":["Area","Std. Error","95% confidence interval","P value"],"scale":{"range":[0,102],"paddingInner":0,"paddingOuter":0},"axis":null}},
 "layer":[{"mark":"rect","encoding":{"x":{"datum":0,"type":"quantitative","scale":{"domain":[0,100],"nice":false},"axis":null},"x2":{"datum":60}}},{"mark":"rect","encoding":{"x":{"datum":60,"type":"quantitative"},"x2":{"datum":100}}},{"mark":{"type":"text","fontSize":14},"encoding":{"x":{"datum":9,"type":"quantitative"},"text":{"field":"stat"}}},{"mark":{"type":"text","fontSize":14},"encoding":{"x":{"datum":63,"type":"quantitative"},"text":{"field":"value"}}}]},
{"width":368,"height":367,"title":"ROC of miR-US25-1-3p","data":{"name":"roc"},"transform":[{"filter":"datum.p == 5"}],
 "encoding":{"x":{"field":"fpr","type":"quantitative","scale":{"domain":[0,100],"nice":false},"axis":{"title":"100% - Specificity%","values":[0,20,40,60,80,100]}},"y":{"field":"sens","type":"quantitative","scale":{"domain":[0,100],"nice":false},"axis":{"title":"Sensitivity%","values":[0,20,40,60,80,100]}}},
 "layer":[{"transform":[{"filter":"datum.fpr == 0 && datum.sens == 0"}],"mark":"rule","encoding":{"x":{"datum":0},"y":{"datum":0},"x2":{"datum":100},"y2":{"datum":100}}},{"mark":"point"},{"mark":"line","encoding":{"order":[{"field":"fpr"},{"field":"sens"}]}}]},
{"width":368,"height":367,"title":"ROC of miR-US25-1-5p","data":{"name":"roc"},"transform":[{"filter":"datum.p == 6"}],
 "encoding":{"x":{"field":"fpr","type":"quantitative","scale":{"domain":[0,100],"nice":false},"axis":{"title":"100% - Specificity%","values":[0,20,40,60,80,100]}},"y":{"field":"sens","type":"quantitative","scale":{"domain":[0,100],"nice":false},"axis":{"title":"Sensitivity%","values":[0,20,40,60,80,100]}}},
 "layer":[{"transform":[{"filter":"datum.fpr == 0 && datum.sens == 0"}],"mark":"rule","encoding":{"x":{"datum":0},"y":{"datum":0},"x2":{"datum":100},"y2":{"datum":100}}},{"mark":"point"},{"mark":"line","encoding":{"order":[{"field":"fpr"},{"field":"sens"}]}}]},
{"width":368,"height":367,"title":"ROC of miR-UL148D","data":{"name":"roc"},"transform":[{"filter":"datum.p == 7"}],
 "encoding":{"x":{"field":"fpr","type":"quantitative","scale":{"domain":[0,100],"nice":false},"axis":{"title":"100% - Specificity%","values":[0,20,40,60,80,100]}},"y":{"field":"sens","type":"quantitative","scale":{"domain":[0,100],"nice":false},"axis":{"title":"Sensitivity%","values":[0,20,40,60,80,100]}}},
 "layer":[{"transform":[{"filter":"datum.fpr == 0 && datum.sens == 0"}],"mark":"rule","encoding":{"x":{"datum":0},"y":{"datum":0},"x2":{"datum":100},"y2":{"datum":100}}},{"mark":"point"},{"mark":"line","encoding":{"order":[{"field":"fpr"},{"field":"sens"}]}}]},
{"width":368,"height":367,"title":"ROC of miR-US25-2-3p","data":{"name":"roc"},"transform":[{"filter":"datum.p == 8"}],
 "encoding":{"x":{"field":"fpr","type":"quantitative","scale":{"domain":[0,100],"nice":false},"axis":{"title":"100% - Specificity%","values":[0,20,40,60,80,100]}},"y":{"field":"sens","type":"quantitative","scale":{"domain":[0,100],"nice":false},"axis":{"title":"Sensitivity%","values":[0,20,40,60,80,100]}}},
 "layer":[{"transform":[{"filter":"datum.fpr == 0 && datum.sens == 0"}],"mark":"rule","encoding":{"x":{"datum":0},"y":{"datum":0},"x2":{"datum":100},"y2":{"datum":100}}},{"mark":"point"},{"mark":"line","encoding":{"order":[{"field":"fpr"},{"field":"sens"}]}}]},
{"width":419,"height":127,"data":{"name":"stats"},"transform":[{"filter":"datum.p == 5"}],
 "encoding":{"y":{"field":"stat","type":"nominal","sort":["Area","Std. Error","95% confidence interval","P value"],"scale":{"range":[0,102],"paddingInner":0,"paddingOuter":0},"axis":null}},
 "layer":[{"mark":"rect","encoding":{"x":{"datum":0,"type":"quantitative","scale":{"domain":[0,100],"nice":false},"axis":null},"x2":{"datum":60}}},{"mark":"rect","encoding":{"x":{"datum":60,"type":"quantitative"},"x2":{"datum":100}}},{"mark":{"type":"text","fontSize":15},"encoding":{"x":{"datum":9,"type":"quantitative"},"text":{"field":"stat"}}},{"mark":{"type":"text","fontSize":15},"encoding":{"x":{"datum":63,"type":"quantitative"},"text":{"field":"value"}}}]},
{"width":419,"height":127,"data":{"name":"stats"},"transform":[{"filter":"datum.p == 6"}],
 "encoding":{"y":{"field":"stat","type":"nominal","sort":["Area","Std. Error","95% confidence interval","P value"],"scale":{"range":[0,102],"paddingInner":0,"paddingOuter":0},"axis":null}},
 "layer":[{"mark":"rect","encoding":{"x":{"datum":0,"type":"quantitative","scale":{"domain":[0,100],"nice":false},"axis":null},"x2":{"datum":60}}},{"mark":"rect","encoding":{"x":{"datum":60,"type":"quantitative"},"x2":{"datum":100}}},{"mark":{"type":"text","fontSize":14},"encoding":{"x":{"datum":9,"type":"quantitative"},"text":{"field":"stat"}}},{"mark":{"type":"text","fontSize":14},"encoding":{"x":{"datum":63,"type":"quantitative"},"text":{"field":"value"}}}]},
{"width":419,"height":127,"data":{"name":"stats"},"transform":[{"filter":"datum.p == 7"}],
 "encoding":{"y":{"field":"stat","type":"nominal","sort":["Area","Std. Error","95% confidence interval","P value"],"scale":{"range":[0,102],"paddingInner":0,"paddingOuter":0},"axis":null}},
 "layer":[{"mark":"rect","encoding":{"x":{"datum":0,"type":"quantitative","scale":{"domain":[0,100],"nice":false},"axis":null},"x2":{"datum":60}}},{"mark":"rect","encoding":{"x":{"datum":60,"type":"quantitative"},"x2":{"datum":100}}},{"mark":{"type":"text","fontSize":15},"encoding":{"x":{"datum":9,"type":"quantitative"},"text":{"field":"stat"}}},{"mark":{"type":"text","fontSize":15},"encoding":{"x":{"datum":63,"type":"quantitative"},"text":{"field":"value"}}}]},
{"width":419,"height":127,"data":{"name":"stats"},"transform":[{"filter":"datum.p == 8"}],
 "encoding":{"y":{"field":"stat","type":"nominal","sort":["Area","Std. Error","95% confidence interval","P value"],"scale":{"range":[0,102],"paddingInner":0,"paddingOuter":0},"axis":null}},
 "layer":[{"mark":"rect","encoding":{"x":{"datum":0,"type":"quantitative","scale":{"domain":[0,100],"nice":false},"axis":null},"x2":{"datum":60}}},{"mark":"rect","encoding":{"x":{"datum":60,"type":"quantitative"},"x2":{"datum":100}}},{"mark":{"type":"text","fontSize":15},"encoding":{"x":{"datum":9,"type":"quantitative"},"text":{"field":"stat"}}},{"mark":{"type":"text","fontSize":15},"encoding":{"x":{"datum":63,"type":"quantitative"},"text":{"field":"value"}}}]},
{"width":368,"height":367,"title":"ROC of miR-US25-2-5p","data":{"name":"roc"},"transform":[{"filter":"datum.p == 9"}],
 "encoding":{"x":{"field":"fpr","type":"quantitative","scale":{"domain":[0,100],"nice":false},"axis":{"title":"100% - Specificity%","values":[0,20,40,60,80,100]}},"y":{"field":"sens","type":"quantitative","scale":{"domain":[0,100],"nice":false},"axis":{"title":"Sensitivity%","values":[0,20,40,60,80,100]}}},
 "layer":[{"transform":[{"filter":"datum.fpr == 0 && datum.sens == 0"}],"mark":"rule","encoding":{"x":{"datum":0},"y":{"datum":0},"x2":{"datum":100},"y2":{"datum":100}}},{"mark":"point"},{"mark":"line","encoding":{"order":[{"field":"fpr"},{"field":"sens"}]}}]},
{"width":368,"height":367,"title":"ROC of miR-UL36-3p","data":{"name":"roc"},"transform":[{"filter":"datum.p == 10"}],
 "encoding":{"x":{"field":"fpr","type":"quantitative","scale":{"domain":[0,100],"nice":false},"axis":{"title":"100% - Specificity%","values":[0,20,40,60,80,100]}},"y":{"field":"sens","type":"quantitative","scale":{"domain":[0,100],"nice":false},"axis":{"title":"Sensitivity%","values":[0,20,40,60,80,100]}}},
 "layer":[{"transform":[{"filter":"datum.fpr == 0 && datum.sens == 0"}],"mark":"rule","encoding":{"x":{"datum":0},"y":{"datum":0},"x2":{"datum":100},"y2":{"datum":100}}},{"mark":"point"},{"mark":"line","encoding":{"order":[{"field":"fpr"},{"field":"sens"}]}}]},
{"width":368,"height":367,"title":"ROC of miR-UL-36-5p","data":{"name":"roc"},"transform":[{"filter":"datum.p == 11"}],
 "encoding":{"x":{"field":"fpr","type":"quantitative","scale":{"domain":[0,100],"nice":false},"axis":{"title":"100% - Specificity%","values":[0,20,40,60,80,100]}},"y":{"field":"sens","type":"quantitative","scale":{"domain":[0,100],"nice":false},"axis":{"title":"Sensitivity%","values":[0,20,40,60,80,100]}}},
 "layer":[{"transform":[{"filter":"datum.fpr == 0 && datum.sens == 0"}],"mark":"rule","encoding":{"x":{"datum":0},"y":{"datum":0},"x2":{"datum":100},"y2":{"datum":100}}},{"mark":"point"},{"mark":"line","encoding":{"order":[{"field":"fpr"},{"field":"sens"}]}}]},
{"width":368,"height":367,"title":"ROC of miR-UL70-3p","data":{"name":"roc"},"transform":[{"filter":"datum.p == 12"}],
 "encoding":{"x":{"field":"fpr","type":"quantitative","scale":{"domain":[0,100],"nice":false},"axis":{"title":"100% - Specificity%","values":[0,20,40,60,80,100]}},"y":{"field":"sens","type":"quantitative","scale":{"domain":[0,100],"nice":false},"axis":{"title":"Sensitivity%","values":[0,20,40,60,80,100]}}},
 "layer":[{"transform":[{"filter":"datum.fpr == 0 && datum.sens == 0"}],"mark":"rule","encoding":{"x":{"datum":0},"y":{"datum":0},"x2":{"datum":100},"y2":{"datum":100}}},{"mark":"point"},{"mark":"line","encoding":{"order":[{"field":"fpr"},{"field":"sens"}]}}]},
{"width":419,"height":127,"data":{"name":"stats"},"transform":[{"filter":"datum.p == 9"}],
 "encoding":{"y":{"field":"stat","type":"nominal","sort":["Area","Std. Error","95% confidence interval","P value"],"scale":{"range":[0,102],"paddingInner":0,"paddingOuter":0},"axis":null}},
 "layer":[{"mark":"rect","encoding":{"x":{"datum":0,"type":"quantitative","scale":{"domain":[0,100],"nice":false},"axis":null},"x2":{"datum":60}}},{"mark":"rect","encoding":{"x":{"datum":60,"type":"quantitative"},"x2":{"datum":100}}},{"mark":{"type":"text","fontSize":14},"encoding":{"x":{"datum":9,"type":"quantitative"},"text":{"field":"stat"}}},{"mark":{"type":"text","fontSize":14},"encoding":{"x":{"datum":63,"type":"quantitative"},"text":{"field":"value"}}}]},
{"width":419,"height":127,"data":{"name":"stats"},"transform":[{"filter":"datum.p == 10"}],
 "encoding":{"y":{"field":"stat","type":"nominal","sort":["Area","Std. Error","95% confidence interval","P value"],"scale":{"range":[0,102],"paddingInner":0,"paddingOuter":0},"axis":null}},
 "layer":[{"mark":"rect","encoding":{"x":{"datum":0,"type":"quantitative","scale":{"domain":[0,100],"nice":false},"axis":null},"x2":{"datum":60}}},{"mark":"rect","encoding":{"x":{"datum":60,"type":"quantitative"},"x2":{"datum":100}}},{"mark":{"type":"text","fontSize":16},"encoding":{"x":{"datum":9,"type":"quantitative"},"text":{"field":"stat"}}},{"mark":{"type":"text","fontSize":16},"encoding":{"x":{"datum":63,"type":"quantitative"},"text":{"field":"value"}}}]},
{"width":419,"height":127,"data":{"name":"stats"},"transform":[{"filter":"datum.p == 11"}],
 "encoding":{"y":{"field":"stat","type":"nominal","sort":["Area","Std. Error","95% confidence interval","P value"],"scale":{"range":[0,102],"paddingInner":0,"paddingOuter":0},"axis":null}},
 "layer":[{"mark":"rect","encoding":{"x":{"datum":0,"type":"quantitative","scale":{"domain":[0,100],"nice":false},"axis":null},"x2":{"datum":60}}},{"mark":"rect","encoding":{"x":{"datum":60,"type":"quantitative"},"x2":{"datum":100}}},{"mark":{"type":"text","fontSize":16},"encoding":{"x":{"datum":9,"type":"quantitative"},"text":{"field":"stat"}}},{"mark":{"type":"text","fontSize":16},"encoding":{"x":{"datum":63,"type":"quantitative"},"text":{"field":"value"}}}]},
{"width":419,"height":127,"data":{"name":"stats"},"transform":[{"filter":"datum.p == 12"}],
 "encoding":{"y":{"field":"stat","type":"nominal","sort":["Area","Std. Error","95% confidence interval","P value"],"scale":{"range":[0,102],"paddingInner":0,"paddingOuter":0},"axis":null}},
 "layer":[{"mark":"rect","encoding":{"x":{"datum":0,"type":"quantitative","scale":{"domain":[0,100],"nice":false},"axis":null},"x2":{"datum":60}}},{"mark":"rect","encoding":{"x":{"datum":60,"type":"quantitative"},"x2":{"datum":100}}},{"mark":{"type":"text","fontSize":15},"encoding":{"x":{"datum":9,"type":"quantitative"},"text":{"field":"stat"}}},{"mark":{"type":"text","fontSize":15},"encoding":{"x":{"datum":63,"type":"quantitative"},"text":{"field":"value"}}}]}
]
}
